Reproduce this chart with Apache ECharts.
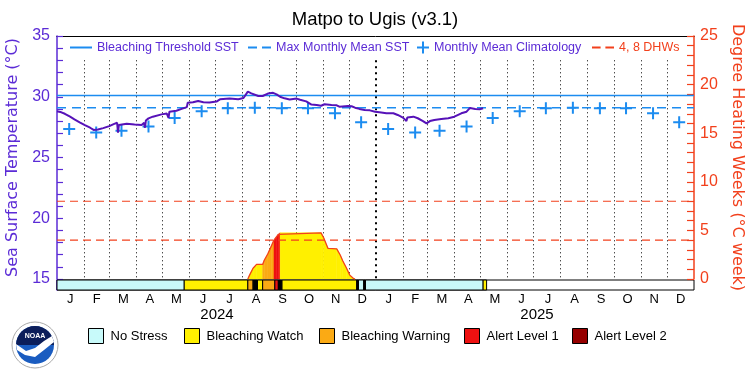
<!DOCTYPE html>
<html>
<head>
<meta charset="utf-8">
<script src="https://cdn.jsdelivr.net/npm/echarts@6/dist/echarts.min.js"></script>
<style>
html, body { margin: 0; padding: 0; background: #fff; }
#chart { width: 750px; height: 375px; }
</style>
</head>
<body>
<div id="chart"></div>
<script>
// 数据
const months = ['J','F','M','A','M','J','J','A','S','O','N','D','J','F','M','A','M','J','J','A','S','O','N','D'];
const years = ['2024', '2025'];
const climatology = [27.35, 27.05, 27.2, 27.55, 28.25, 28.8, 29.05, 29.1, 29.05, 29.05, 28.65, 27.9];
const mmm = 29.1;
const threshold = 30.1;
const dhwMarks = [4, 8];

const sstDates = [
  '2024-01-01','2024-01-06','2024-01-10','2024-01-16','2024-01-21','2024-01-27','2024-02-02','2024-02-08',
  '2024-02-12','2024-02-17','2024-02-23','2024-03-01','2024-03-06','2024-03-10','2024-03-11','2024-03-12',
  '2024-03-21','2024-03-30','2024-04-07','2024-04-10','2024-04-11','2024-04-12','2024-04-15','2024-04-20',
  '2024-04-30','2024-05-06','2024-05-08','2024-05-09','2024-05-17','2024-05-23','2024-05-29','2024-05-30',
  '2024-06-05','2024-06-11','2024-06-17','2024-06-24','2024-07-02','2024-07-06','2024-07-17','2024-07-27',
  '2024-08-02','2024-08-04','2024-08-07','2024-08-11','2024-08-13','2024-08-19','2024-08-24','2024-08-30',
  '2024-09-05','2024-09-09','2024-09-13','2024-09-18','2024-09-24','2024-10-02','2024-10-06','2024-10-13',
  '2024-10-19','2024-10-25','2024-10-30','2024-11-03','2024-11-11','2024-11-17','2024-11-20','2024-11-30',
  '2024-12-04','2024-12-08','2024-12-13','2024-12-19','2024-12-25','2024-12-31','2025-01-05','2025-01-13',
  '2025-01-21','2025-01-26','2025-02-01','2025-02-05','2025-02-06','2025-02-13','2025-02-18','2025-02-24',
  '2025-02-28','2025-03-04','2025-03-09','2025-03-17','2025-03-25','2025-04-01','2025-04-09','2025-04-15',
  '2025-04-19','2025-04-25','2025-04-30','2025-05-04'
];
const sstValues = [
  28.80, 28.72, 28.60, 28.36, 28.14, 27.90, 27.67, 27.45,
  27.27, 27.30, 27.42, 27.58, 27.75, 27.86, 27.04, 27.67,
  27.78, 27.72, 27.68, 27.85, 27.45, 28.05, 28.22, 28.36,
  28.55, 28.62, 28.25, 28.77, 28.85, 29.00, 29.15, 29.50,
  29.54, 29.65, 29.54, 29.52, 29.60, 29.79, 29.86, 29.80,
  29.90, 30.00, 30.42, 30.28, 30.14, 30.06, 30.06, 30.26,
  30.32, 30.20, 30.00, 29.87, 29.78, 29.85, 29.75, 29.62,
  29.36, 29.32, 29.26, 29.38, 29.32, 29.30, 29.18, 29.24,
  29.22, 29.10, 29.00, 28.91, 28.88, 28.77, 28.72, 28.64,
  28.64, 28.50, 28.28, 28.00, 28.30, 28.36, 28.23, 28.00,
  27.81, 28.00, 28.09, 28.17, 28.23, 28.36, 28.64, 28.77,
  29.08, 29.00, 28.97, 29.05
];

const dhwDates = [
  '2024-08-07','2024-08-09','2024-08-13','2024-08-17','2024-08-24','2024-08-26','2024-08-30','2024-09-03',
  '2024-09-06','2024-09-09','2024-09-11','2024-09-13','2024-10-30','2024-11-02','2024-11-07','2024-11-17',
  '2024-11-21','2024-11-24','2024-11-28','2024-12-02','2024-12-06','2024-12-08'
];
const dhwValues = [0, 0.4, 1.1, 1.5, 1.5, 1.95, 2.6, 3.4, 4.0, 4.35, 4.6, 4.75, 4.75, 4.25, 3.15, 3.1, 2.47, 1.85, 1.16, 0.4, 0.07, 0];
const dhwLevel = [1, 1, 1, 1, 2, 2, 2, 2, 3, 3, 3, 1, 1, 1, 1, 1, 1, 1, 1, 1, 1, 1];

// 预警条：起止日期和等级（5 = 黑色）
const stripStart = ['2024-01-01','2024-05-26','2024-08-07','2024-08-13','2024-08-18','2024-08-24','2024-09-07','2024-09-11','2024-09-15','2024-12-10','2024-12-12','2024-12-18','2024-12-20','2025-05-04'];
const stripEnd   = ['2024-05-26','2024-08-07','2024-08-13','2024-08-18','2024-08-24','2024-09-07','2024-09-11','2024-09-15','2024-12-10','2024-12-12','2024-12-18','2024-12-20','2025-05-04','2025-05-08'];
const stripLevel = [0, 1, 2, 5, 1, 2, 3, 5, 1, 5, 0, 5, 0, 1];

const levelNames = ['No Stress', 'Bleaching Watch', 'Bleaching Warning', 'Alert Level 1', 'Alert Level 2', 'gap'];
const levelColors = ['#c8fafa', '#fff000', '#fbaa14', '#ee1111', '#960000', '#000000'];

// 月份虚线从图例下方开始
const gridTopSST = 33;

const PURPLE = '#5b2bd6';
const LINE = '#5612b8';
const BLUE = '#1c8cf0';
const RED = '#f2401c';
const FONT = 'Liberation Sans';

const t = s => { const p = s.split('-'); return Date.UTC(+p[0], +p[1] - 1, +p[2]); };
const xMin = t('2024-01-01');
const xMax = t('2026-01-01');
const yearStart = t('2025-01-01');

const monthStarts = [];
for (let i = 1; i < 24; i++) monthStarts.push(Date.UTC(2024, i, 1));
const midMonths = [];
for (let i = 0; i < 24; i++) midMonths.push(Date.UTC(2024, i, 15));

const sstData = sstDates.map((d, i) => [t(d), sstValues[i]]);
const climData = midMonths.map((d, i) => [d, climatology[i % 12]]);
const dhwT = dhwDates.map(t);
const dhwData = dhwT.map((d, i) => [d, dhwValues[i]]);

function dhwSlice(params, api) {
  const i = api.value(2);
  const p0 = api.coord([dhwT[i], 0]);
  const p1 = api.coord([dhwT[i], dhwValues[i]]);
  const p2 = api.coord([dhwT[i + 1], dhwValues[i + 1]]);
  const p3 = api.coord([dhwT[i + 1], 0]);
  const c = levelColors[dhwLevel[i]];
  return { type: 'polygon', shape: { points: [p0, p1, p2, p3] }, style: { fill: c, stroke: c, lineWidth: 0.5 } };
}

function stripItem(params, api) {
  const a = api.coord([api.value(0), 1]);
  const b = api.coord([api.value(1), 0]);
  return {
    type: 'rect',
    shape: { x: a[0], y: a[1], width: b[0] - a[0], height: b[1] - a[1] },
    style: { fill: api.visual('color'), stroke: '#000', lineWidth: 1 }
  };
}

const stripSeries = levelNames.map((name, lv) => ({
  name: name,
  type: 'custom',
  xAxisIndex: 1,
  yAxisIndex: 2,
  renderItem: stripItem,
  itemStyle: { color: levelColors[lv] },
  encode: { x: [0, 1] },
  data: stripLevel.map((l, i) => l === lv ? [t(stripStart[i]), t(stripEnd[i])] : null).filter(Boolean),
  silent: true,
  z: 3
}));

const ICON_LINE = 'path://M0,0H22V2H0Z';
const ICON_DASH = 'path://M0,0H9V2H0ZM14,0H23V2H14Z';
const ICON_CROSS = 'path://M5,0H7V5H12V7H7V12H5V7H0V5H5Z';

function topLegend(name, left, icon, w, h, color, textColor) {
  return {
    left: left, top: 41, padding: 0, selectedMode: false,
    itemWidth: w, itemHeight: h,
    data: [{ name: name, icon: icon, itemStyle: { color: color, borderWidth: 0 } }],
    textStyle: { color: textColor, fontSize: 12.5, fontFamily: FONT }
  };
}
function bottomLegend(name, left, color) {
  return {
    left: left, top: 328, padding: 0, selectedMode: false,
    itemWidth: 15, itemHeight: 15,
    data: [{ name: name, icon: 'rect', itemStyle: { color: color, borderColor: '#000', borderWidth: 1 } }],
    textStyle: { color: '#000', fontSize: 13, fontFamily: FONT, padding: [0, 0, 0, 2] }
  };
}

// 每 1 个单位一个刻度，只在 5 的倍数处显示数字
const every5 = v => (v % 5 === 0 ? String(v) : '');

const chart = echarts.init(document.getElementById('chart'));

const option = {
  animation: false,
  backgroundColor: '#fff',
  textStyle: { fontFamily: FONT },
  title: {
    text: 'Matpo to Ugis (v3.1)',
    left: 'center', top: 10, padding: 0,
    textStyle: { fontSize: 18.5, fontWeight: 'normal', color: '#000', fontFamily: FONT }
  },
  legend: [
    topLegend('Bleaching Threshold SST', 70, ICON_LINE, 22, 2, BLUE, PURPLE),
    topLegend('Max Monthly Mean SST', 248, ICON_DASH, 23, 2, BLUE, PURPLE),
    topLegend('Monthly Mean Climatology', 417, ICON_CROSS, 12, 12, BLUE, PURPLE),
    topLegend('4, 8 DHWs', 592, ICON_DASH, 22, 2, RED, RED),
    bottomLegend('No Stress', 88, levelColors[0]),
    bottomLegend('Bleaching Watch', 184, levelColors[1]),
    bottomLegend('Bleaching Warning', 319, levelColors[2]),
    bottomLegend('Alert Level 1', 464, levelColors[3]),
    bottomLegend('Alert Level 2', 572, levelColors[4])
  ],
  grid: [
    { left: 57, right: 56, top: 36, height: 243, outerBoundsMode: 'none' },
    { left: 57, right: 56, top: 280, height: 10, show: true, borderColor: '#000', borderWidth: 1, backgroundColor: '#fff', outerBoundsMode: 'none' }
  ],
  xAxis: [
    {
      type: 'time', gridIndex: 0, min: xMin, max: xMax, position: 'top',
      axisLine: { show: true, onZero: false, lineStyle: { color: '#000', width: 1 } },
      axisTick: { show: false }, axisLabel: { show: false }, splitLine: { show: false }
    },
    { type: 'time', gridIndex: 1, min: xMin, max: xMax, show: false },
    {
      type: 'category', gridIndex: 1, data: months, position: 'bottom', boundaryGap: true,
      axisLine: { show: false }, axisTick: { show: false },
      axisLabel: { color: '#000', fontSize: 13, margin: 3, interval: 0 }
    }
  ],
  yAxis: [
    {
      type: 'value', gridIndex: 0, min: 15, max: 35, interval: 1, position: 'left',
      name: 'Sea Surface Temperature (°C)', nameLocation: 'middle', nameGap: 33,
      nameTextStyle: { color: PURPLE, fontSize: 16, fontFamily: 'DejaVu Sans' },
      axisLine: { show: true, lineStyle: { color: PURPLE, width: 1.5 } },
      axisTick: { show: true, inside: true, length: 6, lineStyle: { color: PURPLE, width: 1.2 } },
      axisLabel: { color: PURPLE, fontSize: 16, margin: 7, formatter: every5 },
      splitLine: { show: false }
    },
    {
      type: 'value', gridIndex: 0, min: 0, max: 25, interval: 1, position: 'right',
      name: 'Degree Heating Weeks (°C week)', nameLocation: 'middle', nameGap: 29, nameRotate: -90,
      nameTextStyle: { color: RED, fontSize: 16, fontFamily: 'DejaVu Sans' },
      axisLine: { show: true, lineStyle: { color: RED, width: 1.5 } },
      axisTick: { show: true, inside: true, length: 7, lineStyle: { color: RED, width: 1.2 } },
      axisLabel: { color: RED, fontSize: 16, margin: 6, formatter: every5 },
      splitLine: { show: false }
    },
    {
      type: 'value', gridIndex: 1, min: 0, max: 1,
      axisLine: { show: true, lineStyle: { color: PURPLE, width: 1.5 } },
      axisTick: { show: false }, axisLabel: { show: false }, splitLine: { show: false }
    }
  ],
  graphic: [
    { type: 'text', x: 217, y: 315, style: { text: years[0], font: '15px ' + FONT, fill: '#000', align: 'center', verticalAlign: 'middle' } },
    { type: 'text', x: 537, y: 315, style: { text: years[1], font: '15px ' + FONT, fill: '#000', align: 'center', verticalAlign: 'middle' } },
    {
      type: 'group', x: 35, y: 345, silent: true,
      children: [
        { type: 'circle', shape: { r: 23 }, style: { fill: '#fff', stroke: '#aaa', lineWidth: 1 } },
        { type: 'circle', shape: { r: 19 }, style: { fill: '#1a5cc0' } },
        { type: 'sector', shape: { r: 19, startAngle: Math.PI, endAngle: Math.PI * 2 }, style: { fill: '#0c1e5a' } },
        { type: 'polygon', shape: { points: [[-19, -1], [-9, 6], [0, 3], [9, -4], [17, -9], [19, -3], [9, 5], [0, 12], [-10, 10], [-18, 5]] }, style: { fill: '#fff' } },
        { type: 'text', style: { text: 'NOAA', x: 0, y: -9, font: 'bold 7px ' + FONT, fill: '#fff', align: 'center', verticalAlign: 'middle' } }
      ]
    }
  ],
  series: [
    {
      name: 'Bleaching Threshold SST', type: 'line', xAxisIndex: 0, yAxisIndex: 0,
      data: [[xMin, threshold], [xMax, threshold]],
      symbol: 'none', itemStyle: { color: BLUE }, lineStyle: { color: BLUE, width: 1.5 }, z: 3,
      markLine: {
        silent: true, symbol: 'none', label: { show: false },
        lineStyle: { color: '#000', type: [1, 3], width: 1 },
        data: monthStarts.map(v => [
          { coord: [v, gridTopSST], lineStyle: { width: v === yearStart ? 2 : 1, type: v === yearStart ? [2, 4] : [1, 3] } },
          { coord: [v, 15] }
        ]),
        z: 1
      }
    },
    {
      name: 'DHW area', type: 'custom', xAxisIndex: 0, yAxisIndex: 1,
      renderItem: dhwSlice, encode: { x: 0, y: 1 },
      data: dhwData.slice(0, -1).map((d, i) => [d[0], d[1], i]),
      silent: true, z: 2
    },
    {
      name: 'DHW', type: 'line', xAxisIndex: 0, yAxisIndex: 1, data: dhwData,
      symbol: 'none', lineStyle: { color: RED, width: 1.3 }, itemStyle: { color: RED }, z: 3
    },
    {
      name: 'Max Monthly Mean SST', type: 'line', xAxisIndex: 0, yAxisIndex: 0,
      data: [[xMin, mmm], [xMax, mmm]],
      symbol: 'none', itemStyle: { color: BLUE }, lineStyle: { color: BLUE, width: 1.5, type: [9, 6] }, z: 3
    },
    {
      name: '4, 8 DHWs', type: 'line', xAxisIndex: 0, yAxisIndex: 1,
      data: [[xMin, dhwMarks[0]], [xMax, dhwMarks[0]]],
      symbol: 'none', itemStyle: { color: RED }, lineStyle: { color: RED, width: 1.2, type: [8, 5] }, z: 3
    },
    {
      name: '4, 8 DHWs', type: 'line', xAxisIndex: 0, yAxisIndex: 1,
      data: [[xMin, dhwMarks[1]], [xMax, dhwMarks[1]]],
      symbol: 'none', itemStyle: { color: RED }, lineStyle: { color: RED, width: 1.2, type: [8, 5] }, z: 3
    },
    {
      name: 'Monthly Mean Climatology', type: 'scatter', xAxisIndex: 0, yAxisIndex: 0,
      data: climData, symbol: ICON_CROSS, symbolSize: 12, itemStyle: { color: BLUE, opacity: 1 }, z: 4
    },
    {
      name: 'SST', type: 'line', xAxisIndex: 0, yAxisIndex: 0, data: sstData,
      symbol: 'none', lineStyle: { color: LINE, width: 2 }, itemStyle: { color: LINE }, z: 5
    }
  ].concat(stripSeries)
};

chart.setOption(option);
</script>
</body>
</html>
